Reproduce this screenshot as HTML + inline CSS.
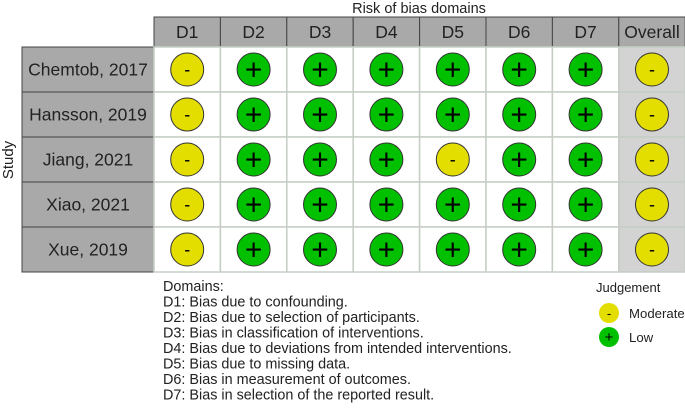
<!DOCTYPE html>
<html><head><meta charset="utf-8"><style>
body{margin:0;background:#fff;}
svg text{font-family:"Liberation Sans",sans-serif;}
</style></head><body>
<svg id="chart" width="685" height="406" viewBox="0 0 685 406" xmlns="http://www.w3.org/2000/svg">
<text x="419" y="13" font-size="14.5" text-anchor="middle" fill="#222">Risk of bias domains</text>
<text transform="translate(13,160) rotate(-90)" font-size="15" text-anchor="middle" fill="#222">Study</text>
<g id="grid"></g>
<g font-size="14.4" fill="#222">
<text x="163" y="291">Domains:</text>
<text x="163" y="306.5">D1: Bias due to confounding.</text>
<text x="163" y="322">D2: Bias due to selection of participants.</text>
<text x="163" y="337.5">D3: Bias in classification of interventions.</text>
<text x="163" y="353">D4: Bias due to deviations from intended interventions.</text>
<text x="163" y="368.5">D5: Bias due to missing data.</text>
<text x="163" y="384">D6: Bias in measurement of outcomes.</text>
<text x="163" y="399.5">D7: Bias in selection of the reported result.</text>
</g>
<g>
<text x="596" y="292" font-size="13" fill="#222">Judgement</text>
<g>
<circle cx="609" cy="313" r="10" fill="#e3dd00"/><text x="609" y="318" font-size="13" text-anchor="middle">-</text>
<text x="629" y="318" font-size="13.2" fill="#222">Moderate</text></g>
<g>
<circle cx="609" cy="337" r="10" fill="#00c000"/><text x="609" y="342" font-size="15" text-anchor="middle">+</text>
<text x="629" y="342" font-size="13.2" fill="#222">Low</text></g>
</g>
</svg>
<script>
const studies=["Chemtob, 2017","Hansson, 2019","Jiang, 2021","Xiao, 2021","Xue, 2019"];
const domains=["D1","D2","D3","D4","D5","D6","D7","Overall"];
const judgements=[
["M","L","L","L","L","L","L","M"],
["M","L","L","L","L","L","L","M"],
["M","L","L","L","M","L","L","M"],
["M","L","L","L","L","L","L","M"],
["M","L","L","L","L","L","L","M"]];
const NS="http://www.w3.org/2000/svg";
const g=document.getElementById('grid');
const x0=154,colW=66.4,y0=47,rowW=45,hTop=17,lx=22;
const colX=i=>x0+i*colW, rowY=j=>y0+j*rowW;
function mk(t,a,p){const e=document.createElementNS(NS,t);for(const k in a)e.setAttribute(k,a[k]);(p||g).appendChild(e);return e;}
domains.forEach((d,i)=>{
 const r=mk('rect',{x:colX(i),y:hTop,width:colW,height:y0-hTop,fill:'#a9a9a9',stroke:'#444','stroke-width':1});
 
 
 const t=mk('text',{x:colX(i)+colW/2,y:hTop+21,'font-size':17.5,'text-anchor':'middle',fill:'#222'});t.textContent=d;
 
 
});
studies.forEach((s,j)=>{
 const r=mk('rect',{x:lx,y:rowY(j),width:x0-lx,height:rowW,fill:'#a9a9a9',stroke:'#444','stroke-width':1});
 
 
 const t=mk('text',{x:(lx+x0)/2,y:rowY(j)+rowW/2+6,'font-size':17.5,'text-anchor':'middle',fill:'#222'});t.textContent=s;
 
 
 domains.forEach((d,i)=>{
  const c=mk('rect',{x:colX(i),y:rowY(j),width:colW,height:rowW,fill:i==7?'#d3d3d3':'#fff',stroke:'#c5cdc5','stroke-width':1.5});
  
  
  const v=judgements[j][i],cx=colX(i)+colW/2,cy=rowY(j)+rowW/2;
  const ci=mk('circle',{cx:cx,cy:cy,r:16.5,fill:v=='L'?'#00c000':'#e3dd00',stroke:'#333','stroke-width':1});
  
  
  const tt=mk('text',{x:cx,y:cy+(v=='L'?10:6),'font-size':v=='L'?30:18,'text-anchor':'middle',fill:'#000'});tt.textContent=v=='L'?'+':'-';
  
  
 });
});
</script>
</body></html>
